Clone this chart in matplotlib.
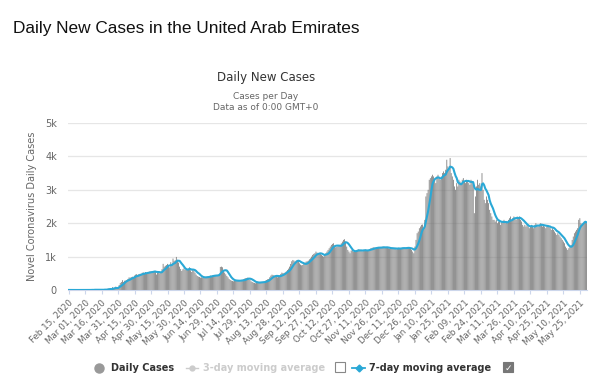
import numpy as np
import pandas as pd
import matplotlib
matplotlib.use("Agg")
import matplotlib.pyplot as plt
from matplotlib.lines import Line2D
from matplotlib.patches import Rectangle

# daily new cases, Feb 15 2020 .. May 31 2021
feb20 = [1, 0, 0, 0, 0, 0, 0, 0, 0, 0, 0, 0, 0, 2, 0]
mar20 = [0, 2, 6, 0, 0, 2, 15, 0, 0, 30, 0, 0, 0, 5, 13, 12, 0, 15, 27, 0,
         13, 45, 45, 50, 0, 85, 53, 72, 102, 41, 53]
apr20 = [150, 210, 241, 294, 241, 277, 283, 300, 331, 376, 370, 387, 398, 376, 432,
         460, 477, 412, 479, 484, 483, 518, 525, 490, 536, 490, 532, 541, 557, 552]
may20 = [552, 564, 567, 541, 462, 546, 557, 502, 512, 624, 783, 698, 725, 747, 781,
         731, 680, 832, 731, 941, 870, 890, 990, 900, 820, 700, 630, 570, 620, 650, 600]
jun20 = [620, 600, 640, 680, 590, 540, 620, 580, 520, 460, 420, 400, 390, 370, 380,
         370, 360, 390, 380, 410, 400, 420, 430, 420, 430, 440, 450, 430, 440, 450]
jul20 = [480, 690, 700, 680, 600, 520, 470, 420, 380, 330, 300, 280, 270, 260, 280,
         290, 300, 280, 270, 260, 290, 300, 320, 340, 350, 360, 370, 340, 300, 260, 240]
aug20 = [220, 210, 200, 230, 250, 220, 230, 240, 220, 230, 250, 280, 300, 320, 330,
         380, 430, 460, 450, 430, 410, 390, 380, 400, 430, 480, 520, 510, 500, 530, 560]
sep20 = [600, 640, 700, 780, 860, 900, 880, 850, 880, 900, 870, 800, 760, 740, 750,
         780, 800, 850, 860, 880, 920, 950, 1000, 1050, 1080, 1100, 1150, 1120, 1050, 1080]
oct20 = [1100, 1050, 1020, 1000, 1060, 1100, 1150, 1200, 1250, 1300, 1350, 1380, 1400,
         1300, 1280, 1290, 1310, 1330, 1350, 1400, 1450, 1500, 1520, 1450, 1300, 1200,
         1150, 1100, 1180, 1200, 1150]
nov20 = [1200, 1150, 1180, 1200, 1220, 1190, 1170, 1160, 1180, 1200, 1210, 1190, 1180,
         1200, 1220, 1250, 1260, 1280, 1270, 1260, 1250, 1280, 1270, 1260, 1280, 1290,
         1300, 1270, 1260, 1280]
dec20 = [1260, 1250, 1240, 1230, 1250, 1260, 1240, 1230, 1220, 1250, 1260, 1240, 1250,
         1260, 1270, 1250, 1240, 1260, 1280, 1270, 1250, 1230, 1200, 1150, 1100, 1300,
         1500, 1700, 1750, 1850, 1900]
jan21 = [1950, 1960, 1800, 2100, 2800, 2900, 3000, 3300, 3350, 3400, 3450, 3400, 3300,
         3200, 3400, 3450, 3350, 3300, 3400, 3500, 3550, 3500, 3600, 3900, 3700, 3650,
         3950, 3500, 3400, 3300, 3100]
feb21 = [3000, 3200, 3100, 3300, 3250, 3200, 3300, 3350, 3250, 3200, 3300, 3250, 3200,
         3150, 3300, 3250, 3150, 2300, 2800, 3100, 3300, 3150, 3200, 3100, 3500, 3000,
         2700, 2600]
mar21 = [2800, 2700, 2600, 2400, 2300, 2200, 2100, 2100, 2050, 2100, 2000, 2050, 2100,
         1950, 2050, 2000, 2100, 2000, 2050, 2000, 2100, 2150, 2200, 2100, 2150, 2200,
         2150, 2100, 2200, 2150, 2200]
apr21 = [2100, 2050, 1950, 1900, 1950, 1900, 1950, 1900, 1850, 1900, 1950, 1900, 1850,
         1950, 2000, 1950, 1900, 1950, 2000, 1950, 1900, 1950, 1900, 1850, 1900, 1950,
         1900, 1850, 1800, 1850]
may21 = [1800, 1750, 1700, 1650, 1700, 1650, 1600, 1550, 1500, 1450, 1400, 1300, 1250,
         1200, 1250, 1300, 1350, 1500, 1600, 1700, 1750, 1800, 1850, 2100, 2150, 2000,
         1950, 2000, 2050, 2050, 2000]

daily = (feb20 + mar20 + apr20 + may20 + jun20 + jul20 + aug20 + sep20 + oct20 + nov20
         + dec20 + jan21 + feb21 + mar21 + apr21 + may21)
dates = pd.date_range("2020-02-15", periods=len(daily), freq="D")
avg7 = pd.Series(daily).rolling(7, min_periods=1).mean()

x = np.arange(len(daily))
tick_pos = x[::15]
tick_labels = [d.strftime("%b %d, %Y") for d in dates[::15]]

grey = "#666666"
fig = plt.figure(figsize=(6, 3.87), dpi=100)
ax = fig.add_axes([68 / 600, 1 - 290 / 387, 519 / 600, 167 / 387])

ax.bar(x, daily, width=0.7, color="#737373", linewidth=0, zorder=2, snap=False)
ax.plot(x, avg7, color="#2aa8d6", lw=1.5, zorder=3)

ax.set_xlim(-0.5, len(daily) - 0.5)
ax.set_ylim(0, 5000)
ax.set_yticks([0, 1000, 2000, 3000, 4000, 5000])
ax.set_yticklabels(["0", "1k", "2k", "3k", "4k", "5k"], color=grey, fontsize=7)
ax.yaxis.grid(True, color="#e6e6e6", lw=0.9, zorder=0)
ax.set_xticks(tick_pos)
ax.set_xticklabels(tick_labels, rotation=45, ha="right", rotation_mode="anchor",
                   fontsize=6.3, color=grey)
ax.tick_params(axis="y", length=0, pad=8)
ax.tick_params(axis="x", length=3, color="#ccd6eb", pad=3)
for s in ["top", "right", "left"]:
    ax.spines[s].set_visible(False)
ax.spines["bottom"].set_color("#ccd6eb")
ax.set_ylabel("Novel Coronavirus Daily Cases", color=grey, fontsize=7, labelpad=6)

fig.text(13 / 600, 1 - 33 / 387, "Daily New Cases in the United Arab Emirates",
         fontsize=12.4, family="Liberation Sans", color="#111111")
fig.text(266 / 600, 1 - 81 / 387, "Daily New Cases", fontsize=8.5, ha="center",
         color="#333333")
fig.text(266 / 600, 1 - 99 / 387, "Cases per Day", fontsize=6.5, ha="center", color=grey)
fig.text(266 / 600, 1 - 110 / 387, "Data as of 0:00 GMT+0", fontsize=6.5, ha="center",
         color=grey)

# legend row
ly = 1 - 368 / 387
tf = fig.transFigure
fig.add_artist(Line2D([99 / 600], [ly], marker="o", ms=6.5, color="#999999", transform=tf))
fig.text(111 / 600, ly, "Daily Cases", fontsize=7, weight="bold", color="#333333",
         va="center")
fig.add_artist(Line2D([186 / 600, 198 / 600], [ly, ly], color="#cccccc", lw=1,
                      transform=tf))
fig.add_artist(Line2D([192 / 600], [ly], marker="o", ms=3.5, color="#cccccc",
                      transform=tf))
fig.text(203 / 600, ly, "3-day moving average", fontsize=7, weight="bold",
         color="#cccccc", va="center")
fig.add_artist(Rectangle((335 / 600, 1 - 372 / 387), 10 / 600, 10 / 387, fill=False,
                         ec="#888888", lw=0.8, transform=tf))
fig.add_artist(Line2D([352 / 600, 365 / 600], [ly, ly], color="#2aa8d6", lw=1.3,
                      transform=tf))
fig.add_artist(Line2D([358.5 / 600], [ly], marker="D", ms=3.5, color="#2aa8d6",
                      transform=tf))
fig.text(369 / 600, ly, "7-day moving average", fontsize=7, weight="bold",
         color="#333333", va="center")
fig.add_artist(Rectangle((503 / 600, 1 - 372 / 387), 10 / 600, 10 / 387, fc="#777777",
                         ec="#777777", lw=0.8, transform=tf))
fig.text(508 / 600, ly, "\u2713", fontsize=6.5, color="white", ha="center", va="center",
         weight="bold")

fig.savefig("out.png", dpi=100)
